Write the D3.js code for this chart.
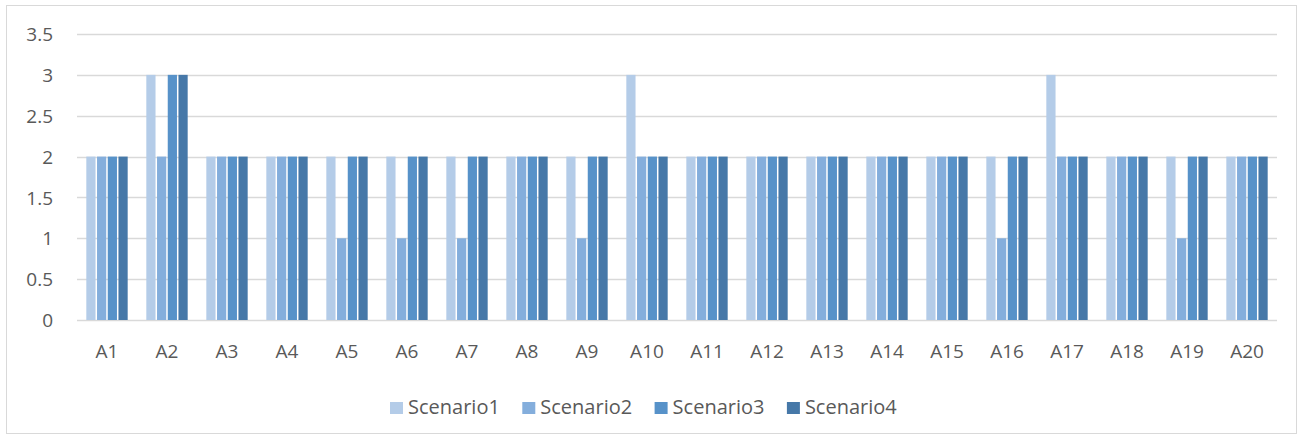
<!DOCTYPE html>
<html>
<head>
<meta charset="utf-8">
<script src="https://cdn.jsdelivr.net/npm/d3@7"></script>
<style>
body { margin: 0; background: #fff; }
text { font-family: "Open Sans", "Liberation Sans", sans-serif; fill: #595959; }
</style>
</head>
<body>
<svg id="svg"></svg>
<script>
var width = 1305, height = 440;

var categories = ["A1","A2","A3","A4","A5","A6","A7","A8","A9","A10",
	"A11","A12","A13","A14","A15","A16","A17","A18","A19","A20"];
var seriesNames = ["Scenario1", "Scenario2", "Scenario3", "Scenario4"];
var scenario1 = [2,3,2,2,2,2,2,2,2,3,2,2,2,2,2,2,3,2,2,2];
var scenario2 = [2,2,2,2,1,1,1,2,1,2,2,2,2,2,2,1,2,2,1,2];
var scenario3 = [2,3,2,2,2,2,2,2,2,2,2,2,2,2,2,2,2,2,2,2];
var scenario4 = [2,3,2,2,2,2,2,2,2,2,2,2,2,2,2,2,2,2,2,2];
var yTicks = [0, 0.5, 1, 1.5, 2, 2.5, 3, 3.5];
var colors = ["#b4cce8", "#84aedc", "#5792c9", "#4678a8"];

var allSeries = [scenario1, scenario2, scenario3, scenario4];

var svg = d3.select("#svg")
	.attr("width", width)
	.attr("height", height);

// chart frame
svg.append("rect")
	.attr("x", 6.5).attr("y", 5.5)
	.attr("width", 1290).attr("height", 428)
	.attr("fill", "#fff")
	.attr("stroke", "#d9d9d9");

var x = d3.scaleBand()
	.domain(categories)
	.range([77, 1277])
	.paddingInner(0.2857)
	.paddingOuter(0.1428);

var x1 = d3.scaleBand()
	.domain(seriesNames)
	.range([0, x.bandwidth()]);

var y = d3.scaleLinear()
	.domain([0, 3.5])
	.range([320, 34]);

// gridlines
svg.append("g")
	.selectAll("line")
	.data(yTicks)
	.enter()
	.append("line")
	.attr("x1", 77).attr("x2", 1277)
	.attr("y1", function(d) { return Math.round(y(d)) + 0.5; })
	.attr("y2", function(d) { return Math.round(y(d)) + 0.5; })
	.attr("stroke", "#d9d9d9")
	.attr("stroke-width", 1.5);

// bars
var group = svg.selectAll(".grp")
	.data(categories)
	.enter()
	.append("g")
	.attr("class", "grp")
	.attr("transform", function(d) { return "translate(" + x(d) + ",0)"; });

group.selectAll("rect")
	.data(function(d, i) { return allSeries.map(function(s, j) { return {name: seriesNames[j], value: s[i], k: j}; }); })
	.enter()
	.append("rect")
	.attr("x", function(d) { return x1(d.name) + 0.75; })
	.attr("width", x1.bandwidth() - 1.5)
	.attr("y", function(d) { return y(d.value); })
	.attr("height", function(d) { return y(0) - y(d.value); })
	.attr("fill", function(d) { return colors[d.k]; });

// axes
var yAxis = d3.axisLeft(y)
	.tickValues(yTicks)
	.tickSize(0)
	.tickPadding(0)
	.tickFormat(d3.format("~g"));
var gy = svg.append("g")
	.attr("transform", "translate(53,0)")
	.call(yAxis);
gy.select(".domain").remove();
gy.selectAll("text").style("font-size", "19px").attr("dy", "0.35em");

var xAxis = d3.axisBottom(x).tickSize(0).tickPadding(0);
var gx = svg.append("g")
	.attr("transform", "translate(0,344)")
	.call(xAxis);
gx.select(".domain").remove();
gx.selectAll("text").style("font-size", "19px").attr("dy", "0.71em");

// legend
var legend = svg.append("g")
	.selectAll("g")
	.data(seriesNames)
	.enter()
	.append("g")
	.attr("transform", function(d, i) { return "translate(" + (390 + i * 132.3) + ",402)"; });

legend.append("rect")
	.attr("width", 13).attr("height", 12)
	.attr("fill", function(d, i) { return colors[i]; });

legend.append("text")
	.attr("x", 18).attr("y", 5)
	.attr("dy", "0.35em")
	.style("font-size", "20px")
	.text(function(d) { return d; });
</script>
</body>
</html>
